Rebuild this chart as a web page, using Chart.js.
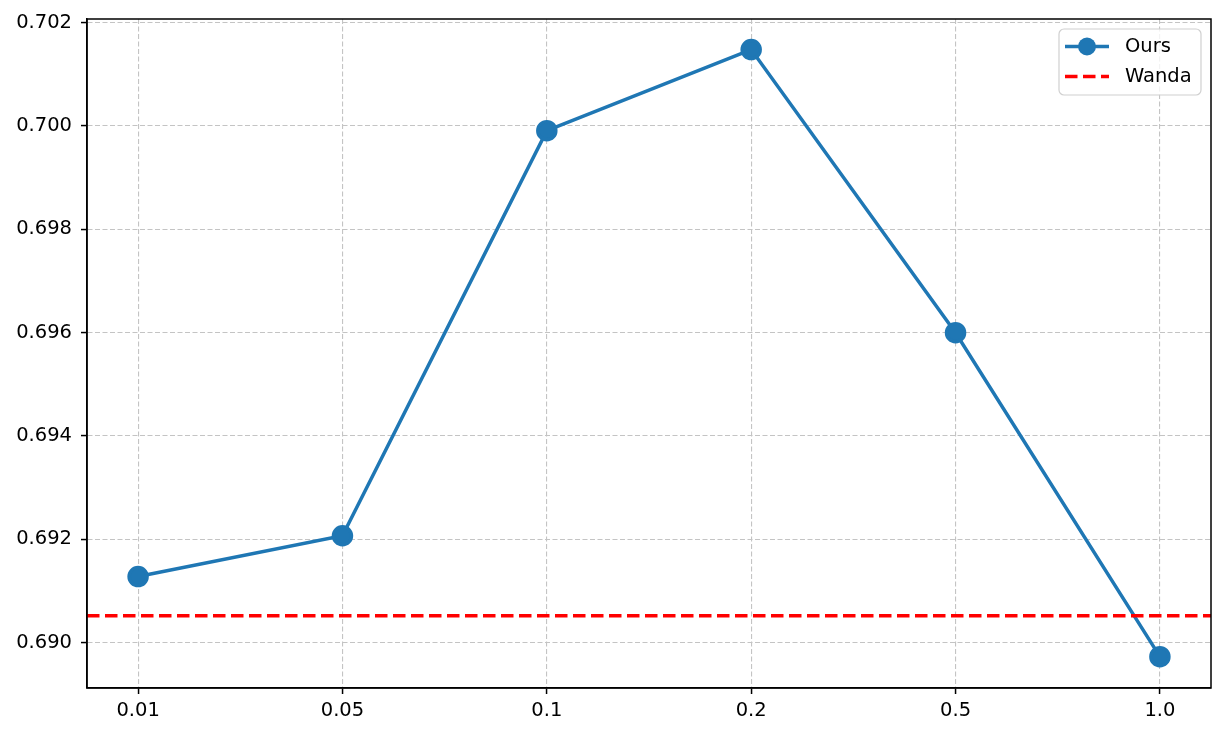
<!DOCTYPE html>
<html><head><meta charset="utf-8">
<script src="https://cdn.jsdelivr.net/npm/chart.js@4.4.0/dist/chart.umd.min.js"></script>
<style>html,body{margin:0;padding:0;background:#fff}#wrap{width:1226px;height:738px}</style>
</head><body><div id="wrap"><canvas id="c" width="1226" height="738"></canvas></div>
<script>
const categories = ['0.01', '0.05', '0.1', '0.2', '0.5', '1.0'];
const oursValues = [0.69128, 0.69207, 0.69991, 0.70148, 0.69600, 0.68973];
const wandaValue = 0.69052;
const yTickValues = [0.690, 0.692, 0.694, 0.696, 0.698, 0.700, 0.702];
const seriesNames = ['Ours', 'Wanda'];

const FONT = "'DejaVu Sans', sans-serif";
const FS = 19.5;

const framePlugin = {
  id: 'frame',
  afterDatasetsDraw(chart) {
    const {ctx, chartArea: a} = chart;
    ctx.save();
    ctx.strokeStyle = '#000';
    ctx.lineWidth = 1.5;
    ctx.strokeRect(a.left, a.top, a.right - a.left, a.bottom - a.top);
    ctx.restore();
  },
  afterDraw(chart) {
    const ctx = chart.ctx;
    const ds = chart.data.datasets;
    const bx = 1059, by = 29, bw = 142, bh = 66, r = 5;
    ctx.save();
    ctx.beginPath();
    ctx.roundRect(bx, by, bw, bh, r);
    ctx.fillStyle = 'rgba(255,255,255,0.8)';
    ctx.fill();
    ctx.strokeStyle = '#d0d0d0';
    ctx.lineWidth = 1.2;
    ctx.stroke();
    const rows = [46.5, 76.5];
    ds.forEach((d, i) => {
      const y = rows[i];
      ctx.beginPath();
      ctx.setLineDash(d.borderDash || []);
      ctx.strokeStyle = d.borderColor;
      ctx.lineWidth = d.borderWidth;
      ctx.moveTo(1065, y);
      ctx.lineTo(1109, y);
      ctx.stroke();
      ctx.setLineDash([]);
      if (d.pointRadius > 0) {
        ctx.beginPath();
        ctx.arc(1087, y, d.pointRadius, 0, Math.PI * 2);
        ctx.fillStyle = d.pointBackgroundColor;
        ctx.fill();
      }
      ctx.fillStyle = '#000';
      ctx.font = FS + 'px ' + FONT;
      ctx.textBaseline = 'middle';
      ctx.textAlign = 'left';
      ctx.fillText(d.label, 1125, y);
    });
    ctx.restore();
  }
};

new Chart(document.getElementById('c'), {
  type: 'line',
  data: {
    datasets: [
      {
        label: seriesNames[0],
        data: oursValues.map((v, i) => ({x: i, y: v})),
        borderColor: '#1f77b4',
        backgroundColor: '#1f77b4',
        pointBackgroundColor: '#1f77b4',
        pointBorderColor: '#1f77b4',
        borderWidth: 3.5,
        pointRadius: 9,
        pointHoverRadius: 9,
        tension: 0,
        order: 1
      },
      {
        label: seriesNames[1],
        data: [{x: -0.25, y: wandaValue}, {x: categories.length - 0.75, y: wandaValue}],
        borderColor: '#ff0000',
        backgroundColor: '#ff0000',
        borderWidth: 3.5,
        borderDash: [12.5, 5.5],
        pointRadius: 0,
        tension: 0,
        order: 0
      }
    ]
  },
  options: {
    responsive: false,
    devicePixelRatio: 1,
    animation: false,
    events: [],
    layout: {padding: {top: 19, right: 15, left: 0, bottom: 0}},
    plugins: {legend: {display: false}, tooltip: {enabled: false}},
    scales: {
      x: {
        type: 'linear',
        min: -0.25,
        max: categories.length - 0.75,
        afterFit: s => { s.height = 50; s.paddingLeft = 0; s.paddingRight = 0; },
        afterBuildTicks: s => { s.ticks = categories.map((c, i) => ({value: i})); },
        ticks: {
          callback: v => categories[v],
          color: '#000',
          font: {family: FONT, size: FS},
          padding: 5,
          maxRotation: 0,
          autoSkip: false
        },
        grid: {color: '#c4c4c4', lineWidth: 1.1, tickLength: 6, tickColor: '#000', tickWidth: 1.5},
        border: {color: '#000', width: 1.5, dash: [5, 2.5]}
      },
      y: {
        type: 'linear',
        min: 0.689123,
        max: 0.702072,
        afterFit: s => { s.width = 87; s.paddingTop = 0; s.paddingBottom = 0; },
        afterBuildTicks: s => { s.ticks = yTickValues.map(v => ({value: v})); },
        ticks: {
          callback: v => v.toFixed(3),
          color: '#000',
          font: {family: FONT, size: FS},
          padding: 9,
          autoSkip: false
        },
        grid: {color: '#c4c4c4', lineWidth: 1.1, tickLength: 6, tickColor: '#000', tickWidth: 1.5},
        border: {color: '#000', width: 1.5, dash: [5, 2.5]}
      }
    }
  },
  plugins: [framePlugin]
});
</script>
</body></html>
